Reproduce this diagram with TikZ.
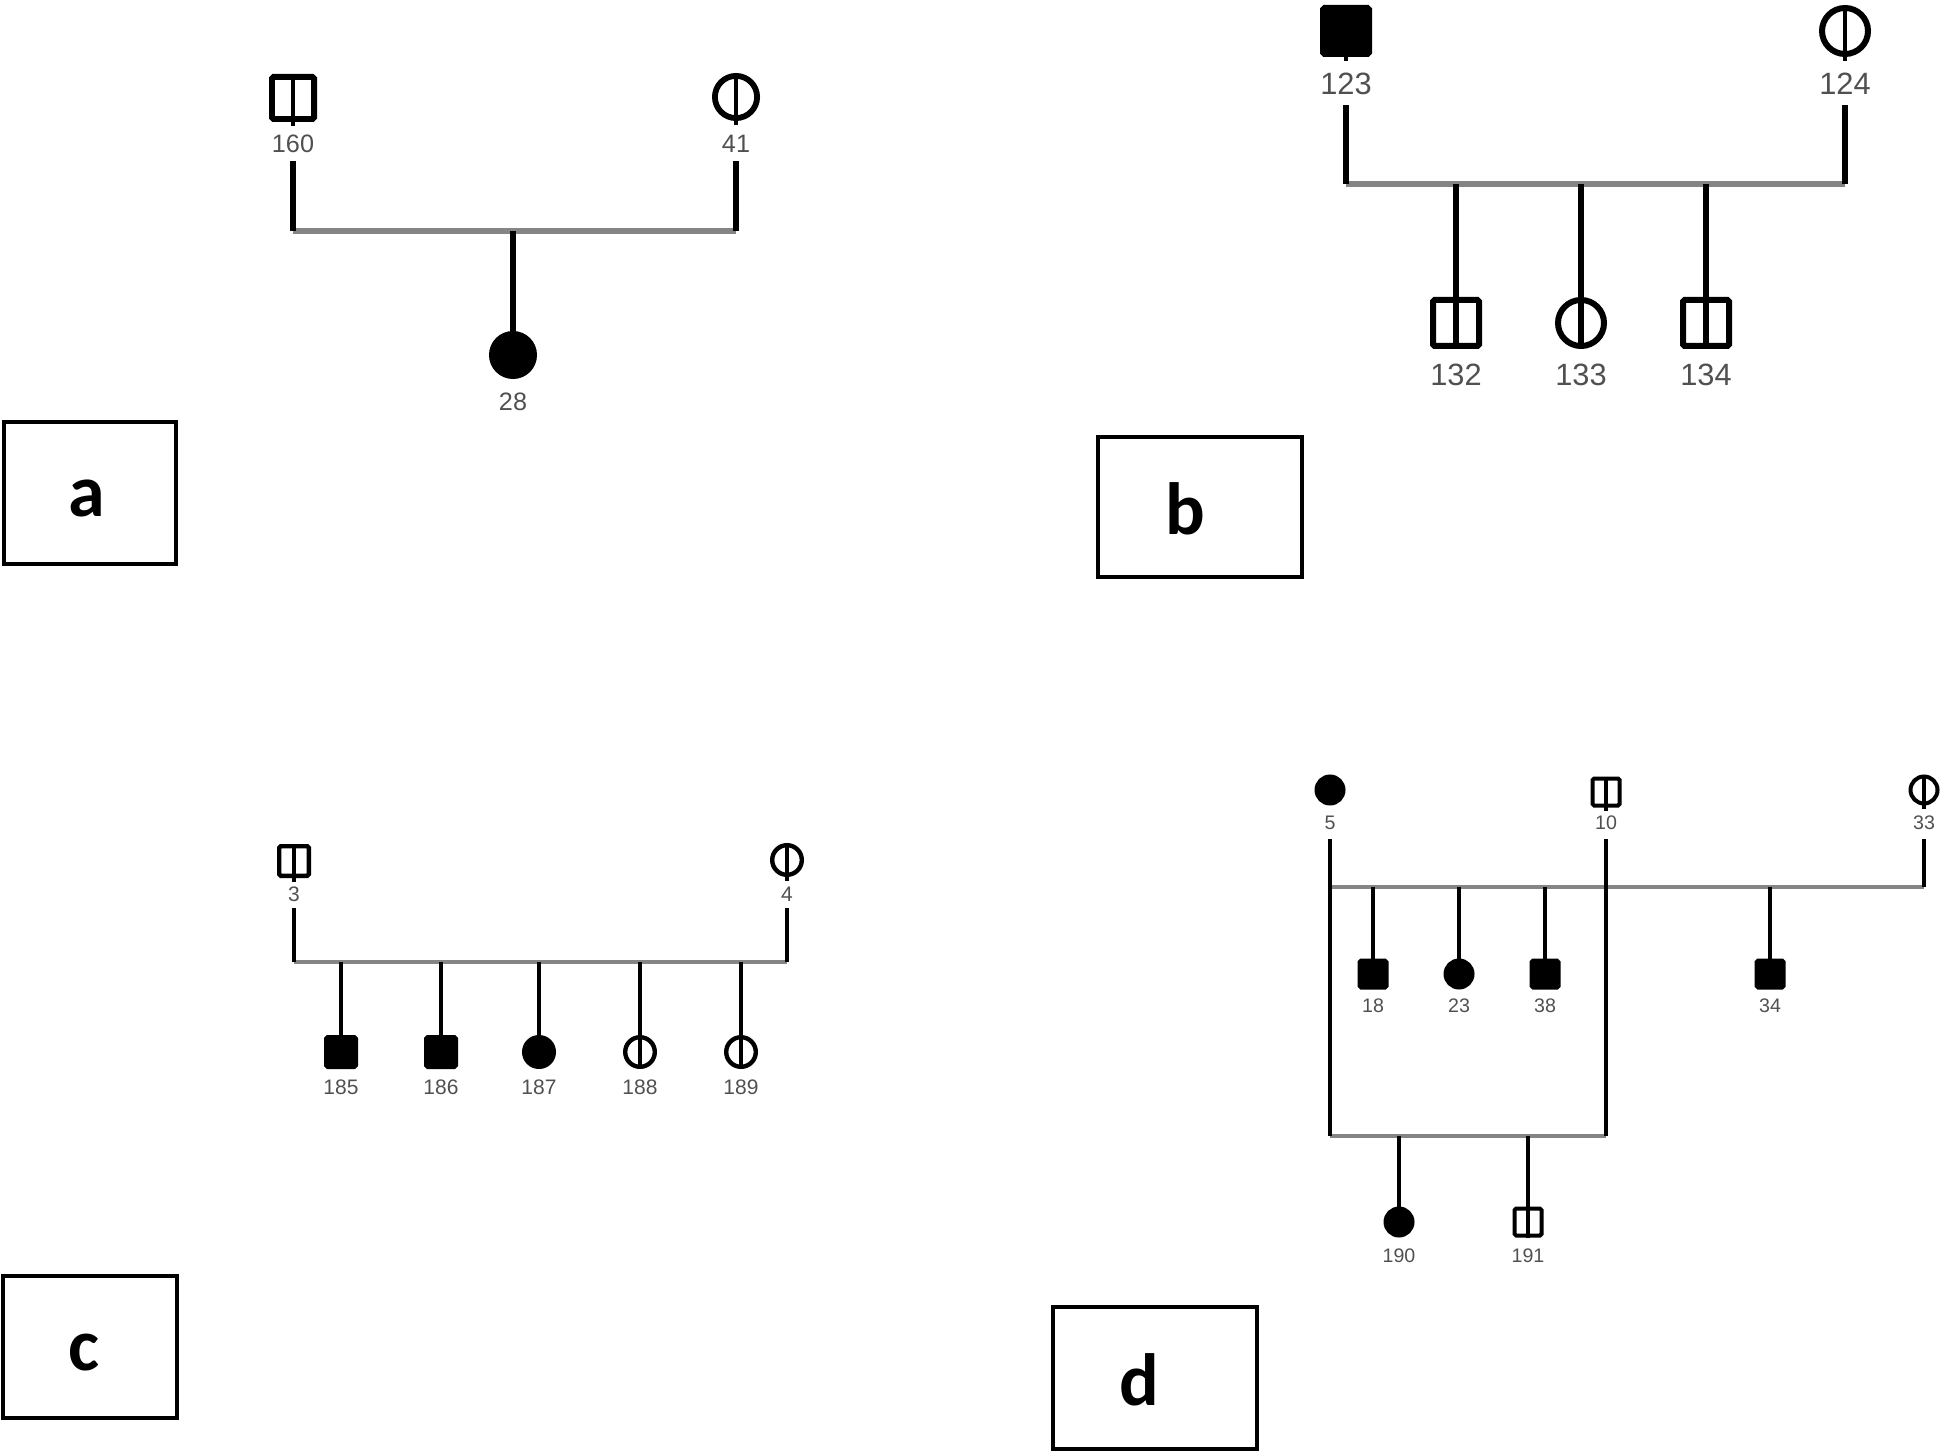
\documentclass[tikz,border=0pt]{standalone}
\usepackage{fontspec}
\setmainfont{Liberation Sans}
\newfontfamily\boxfont{Carlito}
\definecolor{sibgray}{HTML}{858585}
\definecolor{labgray}{HTML}{505050}
\begin{document}
\begin{tikzpicture}[x=0.5pt,y=-0.5pt,
  msq/.style={rectangle, rounded corners=0.8pt},
  fci/.style={circle},
  aff/.style={fill=black},
  symA/.style={draw, fill=white, line width=2.9pt, inner sep=0pt, minimum size=21.1pt},
  symB/.style={draw, fill=white, line width=3pt, inner sep=0pt, minimum size=23pt},
  symC/.style={draw, fill=white, line width=2.2pt, inner sep=0pt, minimum size=14.8pt},
  symD/.style={draw, fill=white, line width=2pt, inner sep=0pt, minimum size=13.5pt},
  labA/.style={text=labgray, inner sep=0pt, font=\fontsize{12.6}{14}\selectfont},
  labB/.style={text=labgray, inner sep=0pt, font=\fontsize{15.4}{17}\selectfont},
  labC/.style={text=labgray, inner sep=0pt, font=\fontsize{10.5}{12}\selectfont},
  labD/.style={text=labgray, inner sep=0pt, font=\fontsize{9.8}{11}\selectfont},
  vA/.style={line width=2.6pt, black},
  vC/.style={line width=2.1pt, black},
  gA/.style={line width=3pt, sibgray},
  gC/.style={line width=2.3pt, sibgray},
  sA/.style={line width=2.4pt, black},
  sC/.style={line width=1.9pt, black},
  pbox/.style={draw, line width=2.1pt, inner sep=0pt},
  pletter/.style={inner sep=0pt, font=\boxfont\bfseries\fontsize{37}{40}\selectfont}
]
\useasboundingbox (0,0) rectangle (1946,1454);

% ---------------- panel a ----------------
\node[symA,msq] (n160) at (293,98) {};
\node[symA,fci] (n41) at (736,97) {};
\node[symA,fci,aff] (n28) at (513,355) {};
\node[labA] (t160) at (293,144) {160};
\node[labA] (t41) at (736,144) {41};
\node[labA] (t28) at (513,402) {28};
\coordinate (a1) at (293,161);
\coordinate (a2) at (736,161);
\coordinate (a3) at (293,231);
\coordinate (a4) at (736,231);
\coordinate (a5) at (513,231);
\draw[gA] (a3) -- (a4);
\draw[vA] (a1) -- (a3);
\draw[vA] (a2) -- (a4);
\draw[vA] (a5) -- (n28.center);
\draw[sA] (n160.north) -- ([yshift=-2pt]n160.south);
\draw[sA] (n41.north) -- ([yshift=-2pt]n41.south);
\node[pbox, minimum width=86pt, minimum height=71pt] (boxa) at (90,493) {};
\node[pletter] (la) at (87,498) {a};

% ---------------- panel b ----------------
\node[symB,msq,aff] (n123) at (1346,31) {};
\node[symB,fci] (n124) at (1845,31) {};
\node[symB,msq] (n132) at (1456,323) {};
\node[symB,fci] (n133) at (1581,323) {};
\node[symB,msq] (n134) at (1706,323) {};
\node[labB] (t123) at (1346,84) {123};
\node[labB] (t124) at (1845,84) {124};
\node[labB] (t132) at (1456,375) {132};
\node[labB] (t133) at (1581,375) {133};
\node[labB] (t134) at (1706,375) {134};
\coordinate (b1) at (1346,105);
\coordinate (b2) at (1845,105);
\coordinate (b3) at (1346,184);
\coordinate (b4) at (1845,184);
\draw[gA] (b3) -- (b4);
\draw[vA] (b1) -- (b3);
\draw[vA] (b2) -- (b4);
\draw[vA] (n132 |- b3) -- (n132.south);
\draw[vA] (n133 |- b3) -- (n133.south);
\draw[vA] (n134 |- b3) -- (n134.south);
\draw[sA] (n123.north) -- ([yshift=-2pt]n123.south);
\draw[sA] (n124.north) -- ([yshift=-2pt]n124.south);
\node[pbox, minimum width=102pt, minimum height=70pt] (boxb) at (1200,507) {};
\node[pletter] (lb) at (1185,509) {b};

% ---------------- panel c ----------------
\node[symC,msq] (n3) at (294,861) {};
\node[symC,fci] (n4) at (787,860) {};
\node[symC,msq,aff] (n185) at (341,1052) {};
\node[symC,msq,aff] (n186) at (441,1052) {};
\node[symC,fci,aff] (n187) at (539,1052) {};
\node[symC,fci] (n188) at (640,1052) {};
\node[symC,fci] (n189) at (741,1052) {};
\node[labC] (t3) at (294,894) {3};
\node[labC] (t4) at (787,894) {4};
\node[labC] (t185) at (341,1087) {185};
\node[labC] (t186) at (441,1087) {186};
\node[labC] (t187) at (539,1087) {187};
\node[labC] (t188) at (640,1087) {188};
\node[labC] (t189) at (741,1087) {189};
\coordinate (c1) at (294,908);
\coordinate (c2) at (787,908);
\coordinate (c3) at (294,962);
\coordinate (c4) at (787,962);
\draw[gC] (c3) -- (c4);
\draw[vC] (c1) -- (c3);
\draw[vC] (c2) -- (c4);
\draw[vC] (n185 |- c3) -- (n185.center);
\draw[vC] (n186 |- c3) -- (n186.center);
\draw[vC] (n187 |- c3) -- (n187.center);
\draw[vC] (n188 |- c3) -- (n188.south);
\draw[vC] (n189 |- c3) -- (n189.south);
\draw[sC] (n3.north) -- ([yshift=-2pt]n3.south);
\draw[sC] (n4.north) -- ([yshift=-2pt]n4.south);
\node[pbox, minimum width=87pt, minimum height=71pt] (boxc) at (90,1347) {};
\node[pletter] (lc) at (84,1353) {c};

% ---------------- panel d ----------------
\node[symD,fci,aff] (n5) at (1330,790) {};
\node[symD,msq] (n10) at (1606,792) {};
\node[symD,fci] (n33) at (1924,790) {};
\node[symD,msq,aff] (n18) at (1373,974) {};
\node[symD,fci,aff] (n23) at (1459,974) {};
\node[symD,msq,aff] (n38) at (1545,974) {};
\node[symD,msq,aff] (n34) at (1770,974) {};
\node[symD,fci,aff] (n190) at (1399,1222) {};
\node[symD,msq] (n191) at (1528,1222) {};
\node[labD] (t5) at (1330,823) {5};
\node[labD] (t10) at (1606,823) {10};
\node[labD] (t33) at (1924,823) {33};
\node[labD] (t18) at (1373,1006) {18};
\node[labD] (t23) at (1459,1006) {23};
\node[labD] (t38) at (1545,1006) {38};
\node[labD] (t34) at (1770,1006) {34};
\node[labD] (t190) at (1399,1256) {190};
\node[labD] (t191) at (1528,1256) {191};
\coordinate (d1) at (1330,839);
\coordinate (d2) at (1606,839);
\coordinate (d3) at (1924,839);
\coordinate (d4) at (1330,887);
\coordinate (d5) at (1924,887);
\coordinate (d6) at (1330,1136);
\coordinate (d7) at (1606,1136);
\draw[gC] (d4) -- (d5);
\draw[gC] (d6) -- (d7);
\draw[vC] (d1) -- (d6);
\draw[vC] (d2) -- (d7);
\draw[vC] (d3) -- (d5);
\draw[vC] (n18 |- d4) -- (n18.center);
\draw[vC] (n23 |- d4) -- (n23.center);
\draw[vC] (n38 |- d4) -- (n38.center);
\draw[vC] (n34 |- d4) -- (n34.center);
\draw[vC] (n190 |- d6) -- (n190.center);
\draw[vC] (n191 |- d6) -- (n191.south);
\draw[sC] (n10.north) -- ([yshift=-1.5pt]n10.south);
\draw[sC] (n33.north) -- ([yshift=-1.5pt]n33.south);
\node[pbox, minimum width=102pt, minimum height=71pt] (boxd) at (1155,1378) {};
\node[pletter] (ld) at (1139,1380) {d};
\end{tikzpicture}
\end{document}
